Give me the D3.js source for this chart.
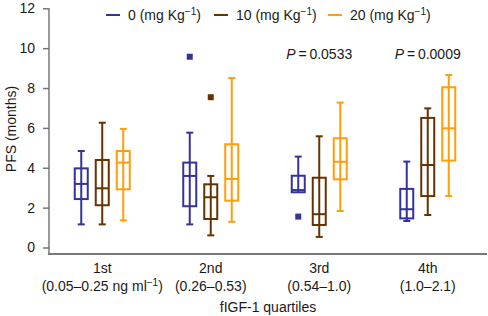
<!DOCTYPE html>
<html>
<head>
<meta charset="utf-8">
<script src="https://cdn.jsdelivr.net/npm/d3@7"></script>
<style>
  body { margin: 0; background: #fff; }
  svg { font-family: "Liberation Sans", Arial, sans-serif; }
</style>
</head>
<body>
<svg width="488" height="316"></svg>
<script>
var svg = d3.select('svg')

// categories
var quartiles = ['1st', '2nd', '3rd', '4th']
var ranges = ['(0.05\u20130.25 ng ml', '(0.26\u20130.53)', '(0.54\u20131.0)', '(1.0\u20132.1)']
var doses = ['0', '10', '20']
var colors = ['#333399', '#663300', '#ff9d0a']

// [low whisker, q1, median, q3, high whisker] per quartile
var dose0 = [
  [1.16, 2.43, 3.19, 3.97, 4.84],
  [1.16, 2.07, 3.59, 4.26, 5.76],
  [2.77, 2.77, 2.88, 3.6, 4.56],
  [1.33, 1.46, 1.92, 2.94, 4.31]
]
var dose10 = [
  [1.16, 2.12, 2.97, 4.39, 6.26],
  [0.61, 1.43, 2.52, 3.17, 3.59],
  [0.53, 1.13, 1.67, 3.5, 5.58],
  [1.63, 2.58, 4.14, 6.5, 6.98]
]
var dose20 = [
  [1.36, 2.92, 4.26, 4.84, 5.95],
  [1.29, 2.35, 3.44, 5.18, 8.5],
  [1.83, 3.42, 4.3, 5.48, 7.27],
  [2.58, 4.36, 5.98, 8.04, 8.65]
]
// outliers: [quartile index, dose index, value]
var outliers = [[1, 0, 9.57], [1, 1, 7.54], [2, 0, 1.55]]
var pValues = [null, null, '0.0533', '0.0009']
var yTicks = [0, 2, 4, 6, 8, 10, 12]

var series = [dose0, dose10, dose20]
var boxes = []
series.forEach((s, si) => {
  s.forEach((v, qi) => {
    boxes.push({ q: quartiles[qi], s: si, low: v[0], q1: v[1], med: v[2], q3: v[3], high: v[4] })
  })
})

var x = d3.scaleBand()
  .domain(quartiles)
  .range([48, 482])

var xs = d3.scalePoint()
  .domain(d3.range(doses.length))
  .range([-21, 21])

var y = d3.scaleLinear()
  .domain([0, 12])
  .range([247.5, 8.3])

var axisColor = '#777'
var textColor = '#1a1a1a'
var fs = 14
var boxW = 13
var capW = 7

// y axis
var yAxis = svg.append('g')
  .attr('transform', 'translate(49,0)')
  .call(d3.axisLeft(y).tickValues(yTicks).tickSize(6).tickPadding(8).tickFormat(d3.format('d')))
yAxis.select('.domain').remove()
yAxis.selectAll('.tick line').attr('stroke', axisColor).attr('stroke-width', 1.5)
yAxis.selectAll('.tick text').attr('font-size', fs).attr('fill', textColor)
yAxis.append('line')
  .attr('x1', 0).attr('x2', 0)
  .attr('y1', y(12)).attr('y2', 254)
  .attr('stroke', axisColor).attr('stroke-width', 1.5)

// x axis line
svg.append('line')
  .attr('x1', 48).attr('x2', 487)
  .attr('y1', 254).attr('y2', 254)
  .attr('stroke', axisColor).attr('stroke-width', 2)

// x labels
var xl = svg.append('g').selectAll('text')
  .data(quartiles)
  .enter()
  .append('text')
  .attr('text-anchor', 'middle')
  .attr('font-size', fs)
  .attr('fill', textColor)
xl.append('tspan')
  .attr('x', (d) => x(d) + x.bandwidth() / 2)
  .attr('y', 273)
  .text((d) => d)
xl.each(function (d, i) {
  var t = d3.select(this).append('tspan')
    .attr('x', x(d) + x.bandwidth() / 2)
    .attr('y', 291)
    .text(ranges[i])
  if (i === 0) {
    t.append('tspan').attr('dy', -5).attr('font-size', 10).text('\u22121')
    t.append('tspan').attr('dy', 5).text(')')
  }
})

svg.append('text')
  .attr('x', 268).attr('y', 312)
  .attr('text-anchor', 'middle')
  .attr('font-size', fs)
  .attr('fill', textColor)
  .text('fIGF-1 quartiles')

svg.append('text')
  .attr('transform', 'translate(16,129) rotate(-90)')
  .attr('text-anchor', 'middle')
  .attr('font-size', fs)
  .attr('fill', textColor)
  .text('PFS (months)')

// boxes
var plot = svg.append('g')
var bx = (d) => x(d.q) + x.bandwidth() / 2 + xs(d.s)

var g = plot.selectAll('g.box')
  .data(boxes)
  .enter()
  .append('g')
  .attr('class', 'box')
  .attr('stroke', (d) => colors[d.s])
  .attr('stroke-width', 2)
  .attr('fill', 'none')

// whisker line through box
g.append('line')
  .attr('x1', bx).attr('x2', bx)
  .attr('y1', (d) => y(d.low)).attr('y2', (d) => y(d.high))
g.append('line')
  .attr('x1', (d) => bx(d) - capW / 2).attr('x2', (d) => bx(d) + capW / 2)
  .attr('y1', (d) => y(d.high)).attr('y2', (d) => y(d.high))
g.filter((d) => d.low < d.q1).append('line')
  .attr('x1', (d) => bx(d) - capW / 2).attr('x2', (d) => bx(d) + capW / 2)
  .attr('y1', (d) => y(d.low)).attr('y2', (d) => y(d.low))
g.append('rect')
  .attr('x', (d) => bx(d) - boxW / 2)
  .attr('width', boxW)
  .attr('y', (d) => y(d.q3))
  .attr('height', (d) => y(d.q1) - y(d.q3))
g.append('line')
  .attr('x1', (d) => bx(d) - boxW / 2).attr('x2', (d) => bx(d) + boxW / 2)
  .attr('y1', (d) => y(d.med)).attr('y2', (d) => y(d.med))

plot.selectAll('rect.out')
  .data(outliers)
  .enter()
  .append('rect')
  .attr('class', 'out')
  .attr('x', (d) => x(quartiles[d[0]]) + x.bandwidth() / 2 + xs(d[1]) - 3)
  .attr('y', (d) => y(d[2]) - 3)
  .attr('width', 6).attr('height', 6)
  .attr('fill', (d) => colors[d[1]])

// p values
var pt = svg.append('g').selectAll('text')
  .data(quartiles.map((q, i) => ({ q: q, p: pValues[i] })).filter((d) => d.p))
  .enter()
  .append('text')
  .attr('x', (d) => x(d.q) + x.bandwidth() / 2)
  .attr('y', 59)
  .attr('text-anchor', 'middle')
  .attr('font-size', fs)
  .attr('fill', textColor)
pt.append('tspan').attr('font-style', 'italic').text('P')
pt.append('tspan').text((d) => '\u2009=\u2009' + d.p)

// legend
var legX = [106, 214, 328]
var leg = svg.append('g').selectAll('g')
  .data(doses)
  .enter()
  .append('g')
  .attr('transform', (d, i) => 'translate(' + legX[i] + ',15)')
leg.append('line')
  .attr('x1', 0).attr('x2', 14)
  .attr('stroke', (d, i) => colors[i])
  .attr('stroke-width', 2)
var lt = leg.append('text')
  .attr('x', 22).attr('y', 5)
  .attr('font-size', fs)
  .attr('fill', textColor)
lt.append('tspan').text((d) => d + ' (mg Kg')
lt.append('tspan').attr('dy', -5).attr('font-size', 10).text('\u22121')
lt.append('tspan').attr('dy', 5).text(')')
</script>
</body>
</html>
